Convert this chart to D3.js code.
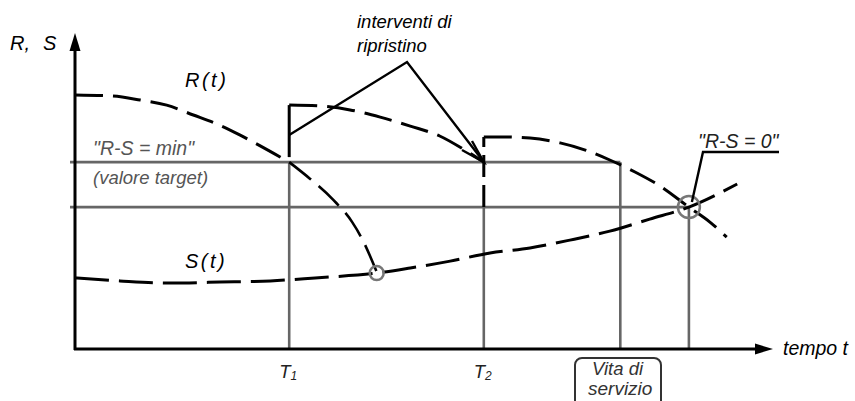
<!DOCTYPE html>
<html><head><meta charset="utf-8">
<script src="https://cdn.jsdelivr.net/npm/d3@7"></script>
<style>
html,body{margin:0;padding:0;background:#fff;}
svg{display:block;font-family:"Liberation Sans",Arial,sans-serif;}
</style></head>
<body>
<svg id="c" width="855" height="401"></svg>
<script>
// ---- data (time units 0..100, value units 0..100) ----
const tMarks = [30.6, 58.4, 77.9, 87.7];        // T1, T2, service life, R=S crossing
const tLabels = ["T", "T", "", ""];
const tSubs = ["1", "2", "", ""];
const levelMin = 62.3;   // "R-S = min"
const levelZero = 47.3;  // level of crossing
const R1t = [0, 5.4, 9.3, 13.1, 16.9, 20, 23.6, 26, 30.6];
const R1v = [84.7, 84.3, 83, 81.3, 78, 75.3, 71.3, 68.3, 62.3];
const R2t = [30.6, 35, 39.3, 43.6, 47.9, 52.1, 55.7, 58.4];
const R2v = [81.3, 81, 79.7, 77.3, 74.3, 71, 66.3, 62.3];
const R3t = [58.4, 60.7, 65, 69.3, 72.9, 76.4, 80, 83.6, 87.7, 90.7, 93.1];
const R3v = [70.7, 70.7, 70.3, 68.7, 66.3, 63, 59, 54.3, 47.3, 42.3, 37.3];
const R0t = [30.6, 33.6, 36.9, 39.6, 41.1, 43.1];
const R0v = [62.3, 56.7, 49.7, 42.3, 36.3, 25.7];
const St = [0, 6.4, 13.6, 20.7, 27.9, 34.3, 43.1, 47.9, 53.6, 59.3, 65, 70.7, 76.4, 82.1, 87.7, 94.6];
const Sv = [23.7, 22.7, 22, 22.3, 22.7, 23.7, 25.3, 27, 29.3, 32, 33.7, 36.3, 39.3, 43.3, 47.3, 55];
const failPoint = [43.1, 25.3];

const svg = d3.select("#c");
const x = d3.scaleLinear().domain([0, 100]).range([75, 775]);
const y = d3.scaleLinear().domain([0, 100]).range([349, 49]);
const zip = (a, b) => a.map((v, i) => [v, b[i]]);
const line = d3.line().x(d => x(d[0])).y(d => y(d[1])).curve(d3.curveMonotoneX);
const grey = "#666";

// grey reference lines
svg.append("line").attr("x1", 70).attr("x2", x(tMarks[2])).attr("y1", y(levelMin)).attr("y2", y(levelMin))
  .attr("stroke", grey).attr("stroke-width", 2.6);
svg.append("line").attr("x1", 70).attr("x2", x(tMarks[3])).attr("y1", y(levelZero)).attr("y2", y(levelZero))
  .attr("stroke", grey).attr("stroke-width", 2.6);
const vTop = [levelMin, levelZero, levelMin, levelZero];
tMarks.forEach((t, i) => {
  svg.append("line").attr("x1", x(t)).attr("x2", x(t)).attr("y1", y(vTop[i])).attr("y2", y(0))
    .attr("stroke", grey).attr("stroke-width", 2.6);
});

// axes
const ax = svg.append("g").attr("stroke", "#000").attr("stroke-width", 3);
ax.append("line").attr("x1", 75).attr("x2", 75).attr("y1", y(0) + 1).attr("y2", 48);
ax.append("line").attr("x1", 74).attr("x2", 758).attr("y1", y(0)).attr("y2", y(0));
svg.append("path").attr("d", "M75,33 L69.5,51 L80.5,51 Z").attr("fill", "#000");
svg.append("path").attr("d", "M773,349 L755,343.5 L755,354.5 Z").attr("fill", "#000");

// dashed curves
const dashed = (pts, w, da) => svg.append("path").attr("d", line(pts)).attr("fill", "none")
  .attr("stroke", "#000").attr("stroke-width", w || 3).attr("stroke-dasharray", da || "28,10");
dashed(zip(R1t, R1v));
dashed(zip(R2t, R2v));
dashed(zip(R3t, R3v));
dashed(zip(R0t, R0v), 2.6);
dashed(zip(St, Sv), 3, "34,10");
// jumps (restoration)
svg.append("line").attr("x1", x(tMarks[0])).attr("x2", x(tMarks[0])).attr("y1", y(levelMin) - 5).attr("y2", y(R2v[0]))
  .attr("stroke", "#000").attr("stroke-width", 3);
svg.append("line").attr("x1", x(tMarks[1])).attr("x2", x(tMarks[1])).attr("y1", y(levelZero)).attr("y2", y(R3v[0]))
  .attr("stroke", "#000").attr("stroke-width", 3).attr("stroke-dasharray", "22,8");

// circles
svg.append("circle").attr("cx", x(failPoint[0])).attr("cy", y(failPoint[1])).attr("r", 7)
  .attr("fill", "none").attr("stroke", "#777").attr("stroke-width", 2.5);
svg.append("circle").attr("cx", x(tMarks[3])).attr("cy", y(levelZero)).attr("r", 11)
  .attr("fill", "none").attr("stroke", "#777").attr("stroke-width", 2.5);

// leaders
const ld = svg.append("g").attr("stroke", "#000").attr("stroke-width", 2.4).attr("fill", "none");
ld.append("polyline").attr("points", `${x(tMarks[0])},${y(71.3)} 407,62 ${x(tMarks[1])},${y(levelMin)}`);
ld.append("polyline").attr("points", `462,150 ${x(tMarks[1])},${y(levelMin)} 472,141`);
ld.append("polyline").attr("points", `${x(tMarks[3]) + 3},${y(levelZero) - 5} 703,152 779,152`);

// text
const txt = (s, xx, yy, size, fill, italic) => svg.append("text").attr("x", xx).attr("y", yy)
  .attr("font-size", size).attr("fill", fill || "#000").attr("font-style", italic === false ? "normal" : "italic").text(s);
txt("R,", 10, 50, 20);
txt("S", 43, 50, 20);
txt("R(t)", 185, 87, 20).attr("letter-spacing", 2.5);
txt("S(t)", 185, 268, 20).attr("letter-spacing", 2.5);
txt("interventi di", 357, 28, 18.5);
txt("ripristino", 357, 52, 18.5);
txt("\"R-S = min\"", 93, 155, 19.5, "#555");
txt("(valore target)", 93, 184, 18.5, "#555");
txt("\"R-S = 0\"", 698, 148, 19.5, "#222");
txt("tempo t", 783, 355, 19.5);
tMarks.forEach((t, i) => {
  if (!tLabels[i]) return;
  const tt = svg.append("text").attr("x", x(t) - 10).attr("y", 378).attr("font-size", 18.5)
    .attr("font-style", "italic").attr("fill", "#222");
  tt.append("tspan").text(tLabels[i]);
  tt.append("tspan").attr("font-size", 12).attr("dy", 2).text(tSubs[i]);
});
// service life box
svg.append("rect").attr("x", 575).attr("y", 358).attr("width", 86).attr("height", 60).attr("rx", 7)
  .attr("fill", "none").attr("stroke", "#333").attr("stroke-width", 2);
txt("Vita di", 592, 375, 18.5, "#333");
txt("servizio", 588, 395, 19, "#333");
</script>
</body></html>
